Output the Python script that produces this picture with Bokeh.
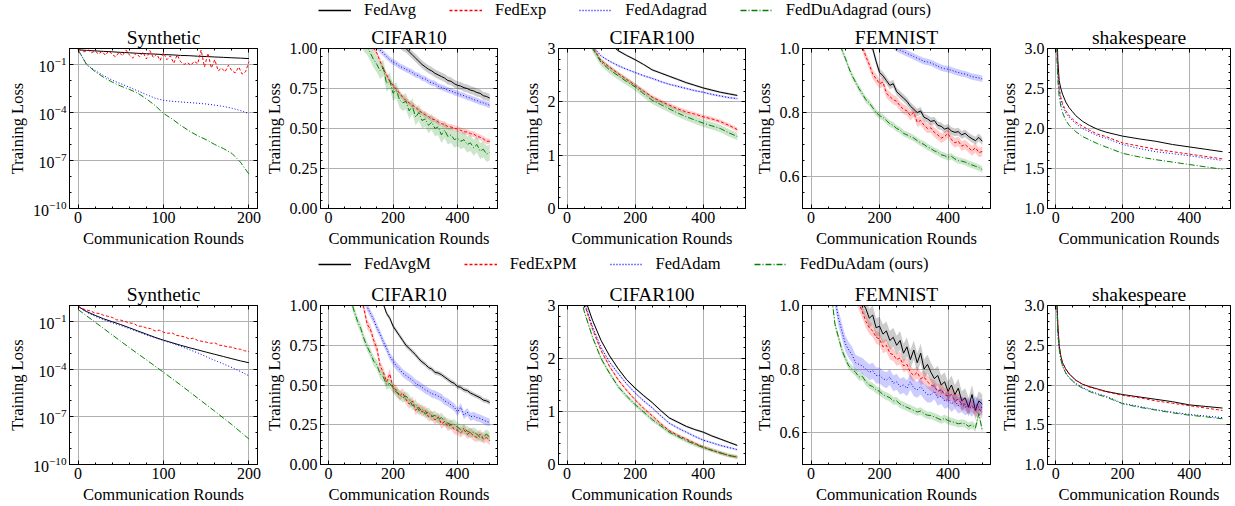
from bokeh.plotting import figure
from bokeh.layouts import column, row
from bokeh.models import (Range1d, FixedTicker, LinearAxis, LogAxis, Legend, LegendItem,
                          NumeralTickFormatter, LogTickFormatter)
from bokeh.embed import file_html
from bokeh.resources import INLINE

FONT = "Liberation Serif"
COLORS = ["#000000", "#ff0000", "#0000ff", "#008000"]
DASHES = ["solid", "3 2", "1 2", "6 2 1 2"]

LABELS_TOP = ["FedAvg", "FedExp", "FedAdagrad", "FedDuAdagrad (ours)"]
LABELS_BOT = ["FedAvgM", "FedExPM", "FedAdam", "FedDuAdam (ours)"]

# ---------------- Synthetic (rounds 0..200) ----------------
SYN_X10 = [0, 10, 20, 30, 40, 50, 60, 70, 80, 90, 100, 110, 120, 130, 140, 150, 160, 170, 180, 190, 200]
SYN_X4 = [0, 4, 8, 12, 16, 20, 24, 28, 32, 36, 40, 44, 48, 52, 56, 60, 64, 68, 72, 76, 80, 84, 88, 92, 96,
          100, 104, 108, 112, 116, 120, 124, 128, 132, 136, 140, 144, 148, 152, 156, 160, 164, 168, 172,
          176, 180, 184, 188, 192, 196, 200]
SYN_X5 = [0, 5, 10, 15, 20, 25, 30, 35, 40, 45, 50, 55, 60, 65, 70, 75, 80, 85, 90, 95, 100, 105, 110,
          115, 120, 125, 130, 135, 140, 145, 150, 155, 160, 165, 170, 175, 180, 185, 190, 195, 200]
SYN_X20 = [0, 20, 40, 60, 80, 100, 120, 140, 160, 180, 200]

syn1_fedavg = [0.83, 0.76, 0.71, 0.66, 0.62, 0.575, 0.54, 0.50, 0.47, 0.447, 0.417, 0.40, 0.37, 0.355,
               0.33, 0.316, 0.295, 0.28, 0.263, 0.25, 0.234]
syn1_fedexp = [0.85, 0.78, 0.62, 0.80, 0.55, 0.70, 0.45, 0.66, 0.38, 0.72, 0.42, 0.30, 0.58, 0.35, 0.82,
               0.40, 0.25, 0.52, 0.30, 0.60, 0.22, 0.75, 0.28, 0.45, 0.18, 0.55, 0.20, 0.35, 0.12, 0.40,
               0.15, 0.10, 0.13, 0.09, 0.16, 0.11, 0.80, 0.07, 0.50, 0.06, 0.20, 0.04, 0.06, 0.035, 0.09,
               0.04, 0.03, 0.07, 0.025, 0.035, 0.15]
syn1_fedadagrad = [0.832, 0.1, 0.0417, 0.02, 0.0105, 6.3e-3, 3.8e-3, 2.24e-3, 1.32e-3, 7.9e-4, 5.75e-4,
                   5.0e-4, 4.57e-4, 4.17e-4, 3.8e-4, 3.39e-4, 2.88e-4, 2.4e-4, 1.86e-4, 1.32e-4, 8.7e-5]
syn1_fedduadagrad = [0.832, 0.1, 0.0355, 0.0158, 7.9e-3, 4.5e-3, 2.8e-3, 1.6e-3, 7.1e-4, 2.8e-4, 8.7e-5,
                     4.0e-5, 1.6e-5, 7.1e-6, 3.5e-6, 2.0e-6, 1.0e-6, 5.6e-7, 2.8e-7, 7.9e-8, 1.4e-8]

syn2_fedavgm = [0.89, 0.417, 0.24, 0.145, 0.0955, 0.063, 0.04, 0.025, 0.0158, 0.01, 6.6e-3, 4.57e-3,
                3.16e-3, 2.24e-3, 1.62e-3, 1.17e-3, 8.5e-4, 6.2e-4, 4.5e-4, 3.3e-4, 2.5e-4]
syn2_fedexpm = [0.93, 0.63, 0.525, 0.447, 0.331, 0.316, 0.24, 0.209, 0.178, 0.126, 0.12, 0.1, 0.0794,
                0.0759, 0.0501, 0.0501, 0.038, 0.0355, 0.0251, 0.0282, 0.0209, 0.0178, 0.0191, 0.0132,
                0.012, 0.0105, 7.9e-3, 8.9e-3, 6.3e-3, 5.6e-3, 5.0e-3, 4.2e-3, 4.5e-3, 3.2e-3, 3.0e-3,
                2.5e-3, 2.4e-3, 1.9e-3, 1.78e-3, 1.41e-3, 1.26e-3]
syn2_fedadam = [0.89, 0.38, 0.209, 0.126, 0.083, 0.055, 0.0355, 0.0224, 0.0141, 9.3e-3, 6.3e-3, 4.2e-3,
                2.7e-3, 1.7e-3, 1.05e-3, 6.0e-4, 3.55e-4, 2.14e-4, 1.26e-4, 7.1e-5, 3.8e-5]
syn2_fedduadam = [0.56, 0.089, 0.0141, 2.24e-3, 3.8e-4, 6.3e-5, 1.0e-5, 1.5e-6, 2.24e-7, 3.2e-8, 4.0e-9]

# ---------------- 500-round benchmarks ----------------
X10 = [0, 10, 20, 30, 40, 50, 60, 70, 80, 90, 100, 110, 120, 130, 140, 150, 160, 170, 180, 190, 200,
       210, 220, 230, 240, 250, 260, 270, 280, 290, 300, 310, 320, 330, 340, 350, 360, 370, 380, 390,
       400, 410, 420, 430, 440, 450, 460, 470, 480, 490, 500]
X25 = [0, 25, 50, 75, 100, 125, 150, 175, 200, 225, 250, 275, 300, 325, 350, 375, 400, 425, 450, 475, 500]
X_SHK = [0, 3, 6, 10, 15, 20, 30, 40, 50, 60, 80, 100, 125, 150, 200, 250, 300, 350, 400, 450, 500]

# CIFAR10, top row
c10a_fedavg = [2.30, 2.25, 2.18, 2.1, 2.0, 1.9, 1.8, 1.7, 1.6, 1.5, 1.45, 1.4, 1.35, 1.3, 1.26, 1.22, 1.18,
               1.15, 1.12, 1.09, 1.07, 1.05, 1.03, 1.01, 1.0, 0.98, 0.96, 0.94, 0.92, 0.90, 0.885, 0.87,
               0.86, 0.845, 0.835, 0.825, 0.815, 0.80, 0.795, 0.78, 0.77, 0.765, 0.755, 0.75, 0.74, 0.735,
               0.725, 0.72, 0.705, 0.7, 0.69]
c10a_fedexp = [2.3, 2.05, 1.85, 1.7, 1.57, 1.46, 1.37, 1.29, 1.22, 1.16, 1.11, 1.07, 1.04, 1.02, 1.0, 0.97,
               0.92, 0.87, 0.835, 0.795, 0.77, 0.745, 0.72, 0.695, 0.675, 0.66, 0.645, 0.635, 0.61, 0.6,
               0.585, 0.575, 0.56, 0.555, 0.54, 0.53, 0.525, 0.512, 0.51, 0.5, 0.497, 0.488, 0.48, 0.478,
               0.468, 0.465, 0.452, 0.445, 0.435, 0.42, 0.42]
c10a_fedadagrad = [2.3, 2.1, 1.95, 1.8, 1.68, 1.57, 1.47, 1.38, 1.3, 1.24, 1.18, 1.13, 1.09, 1.06, 1.03,
                   1.01, 0.99, 0.97, 0.95, 0.93, 0.915, 0.905, 0.89, 0.88, 0.87, 0.86, 0.85, 0.835, 0.83,
                   0.815, 0.81, 0.795, 0.785, 0.78, 0.765, 0.757, 0.75, 0.74, 0.735, 0.725, 0.72, 0.71,
                   0.705, 0.695, 0.69, 0.68, 0.675, 0.665, 0.66, 0.652, 0.645]
c10a_fedduadagrad = [2.3, 2.0, 1.8, 1.63, 1.5, 1.39, 1.3, 1.22, 1.16, 1.11, 1.07, 1.03, 1.01, 0.97, 0.93,
                     0.9, 0.86, 0.88, 0.78, 0.8, 0.72, 0.74, 0.68, 0.66, 0.67, 0.61, 0.64, 0.57, 0.6, 0.55,
                     0.56, 0.52, 0.54, 0.5, 0.51, 0.46, 0.49, 0.45, 0.46, 0.43, 0.44, 0.42, 0.43, 0.4, 0.41,
                     0.38, 0.4, 0.36, 0.37, 0.34, 0.35]
c10a_std = [0.025, 0.018, 0.018, 0.05]

# CIFAR10, bottom row
c10b_fedavgm = [2.3, 2.2, 2.1, 2.0, 1.9, 1.8, 1.7, 1.6, 1.52, 1.45, 1.38, 1.32, 1.26, 1.2, 1.15, 1.1, 1.05,
                1.01, 0.95, 0.92, 0.87, 0.84, 0.81, 0.78, 0.75, 0.73, 0.71, 0.69, 0.665, 0.645, 0.63, 0.61,
                0.6, 0.58, 0.575, 0.565, 0.55, 0.535, 0.52, 0.51, 0.49, 0.485, 0.47, 0.465, 0.45, 0.44,
                0.43, 0.42, 0.405, 0.4, 0.39]
c10b_fedexpm = [2.3, 2.1, 1.93, 1.78, 1.65, 1.54, 1.44, 1.35, 1.26, 1.17, 1.05, 0.98, 0.88, 0.85, 0.78,
                0.73, 0.62, 0.58, 0.52, 0.57, 0.48, 0.47, 0.43, 0.45, 0.41, 0.38, 0.4, 0.34, 0.36, 0.33,
                0.34, 0.3, 0.31, 0.28, 0.3, 0.255, 0.27, 0.24, 0.25, 0.22, 0.215, 0.2, 0.22, 0.19, 0.2,
                0.18, 0.17, 0.19, 0.16, 0.17, 0.15]
c10b_fedadam = [2.3, 2.15, 2.0, 1.85, 1.72, 1.6, 1.5, 1.4, 1.3, 1.2, 1.12, 1.04, 0.99, 0.95, 0.91, 0.86,
                0.82, 0.77, 0.73, 0.68, 0.65, 0.62, 0.6, 0.575, 0.56, 0.545, 0.53, 0.51, 0.5, 0.485, 0.47,
                0.46, 0.445, 0.44, 0.43, 0.42, 0.4, 0.39, 0.375, 0.36, 0.33, 0.36, 0.31, 0.33, 0.3, 0.306,
                0.295, 0.29, 0.28, 0.27, 0.265]
c10b_fedduadam = [2.3, 2.0, 1.75, 1.55, 1.38, 1.24, 1.12, 1.03, 0.96, 0.9, 0.855, 0.79, 0.74, 0.7, 0.65,
                  0.627, 0.57, 0.55, 0.5, 0.51, 0.48, 0.455, 0.44, 0.42, 0.43, 0.41, 0.37, 0.38, 0.34, 0.35,
                  0.317, 0.33, 0.3, 0.31, 0.28, 0.296, 0.27, 0.26, 0.25, 0.255, 0.234, 0.22, 0.225, 0.21,
                  0.2, 0.203, 0.19, 0.17, 0.175, 0.19, 0.172]
c10b_std = [0.015, 0.03, 0.025, 0.03]

# CIFAR100
c100a_fedavg = [4.6, 4.3, 4.0, 3.7, 3.3, 3.1, 2.96, 2.87, 2.79, 2.7, 2.6, 2.54, 2.48, 2.42, 2.36, 2.31,
                2.26, 2.22, 2.18, 2.15, 2.12]
c100a_fedexp = [4.6, 4.0, 3.5, 3.03, 2.77, 2.65, 2.53, 2.42, 2.31, 2.2, 2.09, 2.01, 1.94, 1.87, 1.81, 1.77,
                1.72, 1.68, 1.63, 1.56, 1.48]
c100a_fedadagrad = [4.6, 4.0, 3.5, 3.05, 2.86, 2.76, 2.68, 2.61, 2.55, 2.49, 2.44, 2.38, 2.33, 2.29, 2.25,
                    2.21, 2.18, 2.14, 2.11, 2.08, 2.06]
c100a_fedduadagrad = [4.6, 4.0, 3.45, 3.0, 2.74, 2.6, 2.49, 2.38, 2.28, 2.15, 2.03, 1.95, 1.87, 1.79,
                      1.72, 1.66, 1.6, 1.55, 1.5, 1.42, 1.35]
c100a_std = [0.02, 0.04, 0.02, 0.07]

c100b_fedavgm = [4.6, 3.9, 3.18, 2.72, 2.34, 2.05, 1.81, 1.6, 1.44, 1.3, 1.17, 1.02, 0.88, 0.8, 0.72, 0.66,
                 0.61, 0.54, 0.48, 0.42, 0.36]
c100b_fedexpm = [4.6, 3.85, 3.05, 2.55, 2.15, 1.85, 1.6, 1.4, 1.22, 1.06, 0.92, 0.77, 0.64, 0.55, 0.48,
                 0.4, 0.33, 0.27, 0.22, 0.17, 0.14]
c100b_fedadam = [4.6, 3.85, 3.1, 2.6, 2.21, 1.93, 1.72, 1.52, 1.35, 1.2, 1.07, 0.92, 0.78, 0.69, 0.61,
                 0.53, 0.46, 0.41, 0.36, 0.32, 0.28]
c100b_fedduadam = [4.6, 3.7, 2.9, 2.4, 2.0, 1.72, 1.47, 1.29, 1.13, 0.99, 0.85, 0.73, 0.61, 0.53, 0.45,
                   0.38, 0.32, 0.27, 0.22, 0.17, 0.14]
c100b_std = [0.02, 0.03, 0.02, 0.04]

# FEMNIST
fema_fedavg = [4.1, 3.6, 3.1, 2.7, 2.35, 2.05, 1.8, 1.6, 1.45, 1.35, 1.27, 1.21, 1.16, 1.12, 1.09, 1.06,
               1.04, 1.02, 1.0, 0.96, 0.925, 0.915, 0.9, 0.885, 0.89, 0.865, 0.855, 0.845, 0.835, 0.82,
               0.81, 0.8, 0.805, 0.785, 0.78, 0.772, 0.775, 0.76, 0.757, 0.748, 0.752, 0.742, 0.738, 0.74,
               0.73, 0.735, 0.725, 0.718, 0.712, 0.722, 0.71]
fema_fedexp = [4.1, 3.5, 3.0, 2.6, 2.25, 1.95, 1.72, 1.55, 1.42, 1.32, 1.24, 1.17, 1.12, 1.07, 1.03,
               1.005, 0.975, 0.95, 0.92, 0.905, 0.89, 0.895, 0.86, 0.85, 0.84, 0.835, 0.82, 0.81, 0.805,
               0.79, 0.8, 0.77, 0.775, 0.76, 0.75, 0.752, 0.738, 0.73, 0.72, 0.725, 0.735, 0.715, 0.705,
               0.71, 0.695, 0.7, 0.69, 0.68, 0.69, 0.675, 0.678]
fema_fedadagrad = [4.1, 3.8, 3.5, 3.2, 2.9, 2.65, 2.4, 2.2, 2.0, 1.85, 1.72, 1.6, 1.5, 1.42, 1.35, 1.29,
                   1.24, 1.19, 1.15, 1.11, 1.08, 1.06, 1.04, 1.025, 1.01, 1.0, 0.995, 0.99, 0.985, 0.98,
                   0.975, 0.97, 0.965, 0.96, 0.958, 0.955, 0.95, 0.945, 0.94, 0.937, 0.935, 0.932, 0.928,
                   0.925, 0.922, 0.92, 0.916, 0.912, 0.91, 0.908, 0.905]
fema_fedduadagrad = [4.1, 3.3, 2.7, 2.2, 1.85, 1.55, 1.33, 1.18, 1.07, 0.995, 0.97, 0.94, 0.915, 0.895,
                     0.875, 0.858, 0.84, 0.83, 0.815, 0.8, 0.79, 0.785, 0.775, 0.765, 0.76, 0.75, 0.745,
                     0.735, 0.73, 0.725, 0.72, 0.712, 0.705, 0.7, 0.692, 0.687, 0.68, 0.676, 0.668, 0.665,
                     0.66, 0.663, 0.655, 0.65, 0.648, 0.645, 0.64, 0.636, 0.632, 0.628, 0.622]
fema_std = [0.012, 0.015, 0.01, 0.01]

femb_fedavgm = [4.1, 3.6, 3.1, 2.7, 2.35, 2.05, 1.8, 1.6, 1.45, 1.34, 1.25, 1.18, 1.12, 1.08, 1.04, 1.01,
                0.99, 0.96, 0.97, 0.93, 0.935, 0.91, 0.92, 0.89, 0.9, 0.875, 0.89, 0.85, 0.87, 0.83, 0.86,
                0.82, 0.85, 0.8, 0.815, 0.79, 0.77, 0.78, 0.75, 0.76, 0.73, 0.75, 0.72, 0.74, 0.7, 0.71,
                0.68, 0.72, 0.67, 0.7, 0.69]
femb_fedexpm = [4.1, 3.55, 3.05, 2.65, 2.3, 2.0, 1.75, 1.55, 1.4, 1.29, 1.2, 1.13, 1.07, 1.03, 1.005,
                0.98, 0.95, 0.93, 0.92, 0.9, 0.895, 0.87, 0.875, 0.85, 0.845, 0.83, 0.835, 0.81, 0.815,
                0.79, 0.78, 0.79, 0.77, 0.775, 0.76, 0.75, 0.745, 0.73, 0.735, 0.72, 0.715, 0.72, 0.7,
                0.705, 0.69, 0.69, 0.68, 0.685, 0.67, 0.675, 0.665]
femb_fedadam = [4.1, 3.3, 2.6, 2.1, 1.7, 1.4, 1.18, 1.02, 0.96, 0.92, 0.88, 0.86, 0.845, 0.82, 0.815, 0.81,
                0.8, 0.79, 0.795, 0.78, 0.78, 0.77, 0.765, 0.775, 0.755, 0.76, 0.745, 0.75, 0.74, 0.76,
                0.74, 0.735, 0.745, 0.73, 0.72, 0.72, 0.73, 0.71, 0.715, 0.7, 0.705, 0.69, 0.7, 0.685,
                0.69, 0.68, 0.685, 0.675, 0.69, 0.68, 0.68]
femb_fedduadam = [4.1, 3.2, 2.5, 1.95, 1.55, 1.25, 1.03, 0.94, 0.9, 0.86, 0.834, 0.81, 0.8, 0.79, 0.775,
                  0.777, 0.76, 0.75, 0.745, 0.735, 0.73, 0.72, 0.715, 0.71, 0.7, 0.7, 0.69, 0.685, 0.68,
                  0.675, 0.67, 0.665, 0.668, 0.66, 0.655, 0.654, 0.65, 0.645, 0.64, 0.645, 0.638, 0.635,
                  0.632, 0.628, 0.63, 0.628, 0.62, 0.625, 0.615, 0.66, 0.607]
femb_std = [0.03, 0.02, 0.025, 0.012]

# shakespeare
shka_fedavg = [4.4, 3.3, 2.85, 2.6, 2.5, 2.43, 2.33, 2.26, 2.21, 2.16, 2.09, 2.04, 1.99, 1.955, 1.905,
               1.87, 1.84, 1.8, 1.77, 1.74, 1.71]
shka_fedexp = [4.4, 3.1, 2.75, 2.5, 2.39, 2.31, 2.22, 2.16, 2.12, 2.08, 2.03, 1.98, 1.93, 1.9, 1.82, 1.78,
               1.74, 1.71, 1.68, 1.65, 1.62]
shka_fedadagrad = [4.4, 3.0, 2.7, 2.48, 2.36, 2.28, 2.19, 2.14, 2.1, 2.06, 2.0, 1.96, 1.91, 1.88, 1.8,
                   1.75, 1.71, 1.685, 1.66, 1.63, 1.6]
shka_fedduadagrad = [4.4, 2.9, 2.6, 2.4, 2.28, 2.2, 2.1, 2.04, 2.0, 1.96, 1.9, 1.86, 1.81, 1.77, 1.69,
                     1.645, 1.61, 1.58, 1.55, 1.52, 1.49]

shkb_fedavgm = [4.4, 3.1, 2.75, 2.5, 2.36, 2.28, 2.2, 2.14, 2.1, 2.06, 2.01, 1.98, 1.95, 1.92, 1.88, 1.85,
                1.82, 1.79, 1.75, 1.73, 1.71]
shkb_fedexpm = [4.4, 3.1, 2.75, 2.5, 2.36, 2.28, 2.2, 2.14, 2.1, 2.06, 2.01, 1.975, 1.945, 1.915, 1.87,
                1.84, 1.8, 1.77, 1.74, 1.71, 1.68]
shkb_fedadam = [4.4, 3.0, 2.65, 2.46, 2.32, 2.24, 2.15, 2.09, 2.06, 2.02, 1.97, 1.93, 1.89, 1.86, 1.77,
                1.73, 1.69, 1.66, 1.63, 1.61, 1.59]
shkb_fedduadam = [4.4, 3.0, 2.65, 2.46, 2.32, 2.24, 2.15, 2.09, 2.05, 2.01, 1.96, 1.92, 1.88, 1.85, 1.765,
                  1.72, 1.685, 1.65, 1.62, 1.6, 1.575]

# tick positions
SYN_XTICKS = [0, 100, 200]
SYN_XMINOR = [0, 20, 40, 60, 80, 100, 120, 140, 160, 180, 200]
R_XTICKS = [0, 200, 400]
R_XMINOR = [0, 50, 100, 150, 200, 250, 300, 350, 400, 450, 500]
LOG_TICKS = [1e-10, 1e-7, 1e-4, 1e-1]
LOG_MINOR = [1e-10, 1e-9, 1e-8, 1e-7, 1e-6, 1e-5, 1e-4, 1e-3, 1e-2, 1e-1, 1.0]
C10_TICKS = [0.0, 0.25, 0.5, 0.75, 1.0]
C10_MINOR = [0.0, 0.05, 0.1, 0.15, 0.2, 0.25, 0.3, 0.35, 0.4, 0.45, 0.5, 0.55, 0.6, 0.65, 0.7, 0.75,
             0.8, 0.85, 0.9, 0.95, 1.0]
C100_TICKS = [0, 1, 2, 3]
C100_MINOR = [0, 0.2, 0.4, 0.6, 0.8, 1.0, 1.2, 1.4, 1.6, 1.8, 2.0, 2.2, 2.4, 2.6, 2.8, 3.0]
FEM_TICKS = [0.6, 0.8, 1.0]
FEM_MINOR = [0.5, 0.55, 0.6, 0.65, 0.7, 0.75, 0.8, 0.85, 0.9, 0.95, 1.0]
SHK_TICKS = [1.0, 1.5, 2.0, 2.5, 3.0]
SHK_MINOR = [1.0, 1.1, 1.2, 1.3, 1.4, 1.5, 1.6, 1.7, 1.8, 1.9, 2.0, 2.1, 2.2, 2.3, 2.4, 2.5, 2.6, 2.7,
             2.8, 2.9, 3.0]


def style_axis(ax, hidden=False):
    ax.major_tick_in = 4
    ax.major_tick_out = 0
    ax.minor_tick_in = 2
    ax.minor_tick_out = 0
    ax.axis_line_color = "black"
    ax.major_tick_line_color = "black"
    ax.minor_tick_line_color = "black"
    ax.major_label_text_font = FONT
    ax.major_label_text_color = "black"
    ax.axis_label_text_font = FONT
    ax.axis_label_text_font_style = "normal"
    ax.axis_label_text_color = "black"
    ax.axis_label_text_font_size = "16.5px"
    if hidden:
        ax.major_label_text_font_size = "1px"
        ax.major_label_text_alpha = 0
        ax.major_label_standoff = 0
    else:
        ax.major_label_text_font_size = "16px"
        ax.major_label_standoff = 3
        ax.axis_label_standoff = 3


def panel(title, width, left, right, height, top, bottom, xr, yr, xt, xm, yt, ym, yfmt,
          xs, ys, stds=None, log=False):
    p = figure(width=width, height=height, x_range=Range1d(*xr), y_range=Range1d(*yr),
               y_axis_type="log" if log else "linear", toolbar_location=None,
               output_backend="svg", min_border_left=left, min_border_right=right,
               min_border_top=top, min_border_bottom=bottom, title=title)
    p.title.text_font = FONT
    p.title.text_font_size = "19.5px"
    p.title.text_font_style = "normal"
    p.title.text_color = "black"
    p.title.align = "center"
    p.title.standoff = 2
    p.outline_line_color = "black"
    p.outline_line_width = 1
    p.background_fill_color = "white"
    p.border_fill_color = "white"

    xtick = FixedTicker(ticks=xt, minor_ticks=xm)
    ytick = FixedTicker(ticks=yt, minor_ticks=ym)
    p.xaxis.ticker = xtick
    p.yaxis.ticker = ytick
    p.xaxis.axis_label = "Communication Rounds"
    p.yaxis.axis_label = "Training Loss"
    p.xaxis.formatter = NumeralTickFormatter(format="0")
    if log:
        p.yaxis.formatter = LogTickFormatter()
    else:
        p.yaxis.formatter = NumeralTickFormatter(format=yfmt)
    for ax in p.xaxis + p.yaxis:
        style_axis(ax)
    # ticks on the opposite sides
    top_ax = LinearAxis(ticker=xtick)
    style_axis(top_ax, hidden=True)
    p.add_layout(top_ax, "above")
    right_ax = LogAxis(ticker=ytick) if log else LinearAxis(ticker=ytick)
    style_axis(right_ax, hidden=True)
    p.add_layout(right_ax, "right")

    p.xgrid.ticker = xtick
    p.ygrid.ticker = ytick
    p.grid.grid_line_color = "#b0b0b0"
    p.grid.grid_line_width = 1

    for i, (x, y) in enumerate(zip(xs, ys)):
        if stds is not None:
            lo = [v - stds[i] for v in y]
            hi = [v + stds[i] for v in y]
            p.varea(x=x, y1=lo, y2=hi, fill_color=COLORS[i], fill_alpha=0.2)
        p.line(x=x, y=y, line_color=COLORS[i], line_dash=DASHES[i], line_width=1.0)
    return p


def legend_fig(width, height, labels, xs, ys, loc):
    # the handles reuse the panel data; the ranges keep them out of view
    p = figure(width=width, height=height, x_range=Range1d(-3, -2), y_range=Range1d(-3, -2),
               toolbar_location=None, output_backend="svg", min_border=0,
               x_axis_type=None, y_axis_type=None)
    p.outline_line_color = None
    items = []
    for lab, c, d, x, y in zip(labels, COLORS, DASHES, xs, ys):
        r = p.line(x=x, y=y, line_color=c, line_dash=d, line_width=1.3)
        items.append(LegendItem(label=lab, renderers=[r]))
    leg = Legend(items=items, orientation="horizontal", location=loc,
                 glyph_width=33, glyph_height=18, label_height=18, label_standoff=13,
                 spacing=33, padding=0, margin=0, border_line_color=None,
                 background_fill_alpha=0, label_text_font=FONT, label_text_font_size="16.5px",
                 label_text_color="black")
    p.add_layout(leg)
    return p


W = [261, 242, 247, 245, 240]
L = [69, 52, 55, 52, 52]
R = [4, 6, 5, 5, 5]
R500 = (-25, 524)


def build_row(h, top, bottom, data):
    figs = []
    specs = [
        ("Synthetic", (-10, 210), SYN_XTICKS, SYN_XMINOR, (1e-10, 1.0), LOG_TICKS, LOG_MINOR, None, True),
        ("CIFAR10", R500, R_XTICKS, R_XMINOR, (0, 1), C10_TICKS, C10_MINOR, "0.00", False),
        ("CIFAR100", R500, R_XTICKS, R_XMINOR, (0, 3), C100_TICKS, C100_MINOR, "0", False),
        ("FEMNIST", R500, R_XTICKS, R_XMINOR, (0.5, 1.0), FEM_TICKS, FEM_MINOR, "0.0", False),
        ("shakespeare", R500, R_XTICKS, R_XMINOR, (1.0, 3.0), SHK_TICKS, SHK_MINOR, "0.0", False),
    ]
    for k, (title, xr, xt, xm, yr, yt, ym, fmt, log) in enumerate(specs):
        xs, ys, stds = data[k]
        figs.append(panel(title, W[k], L[k], R[k], h, top, bottom, xr, yr, xt, xm, yt, ym, fmt,
                          xs, ys, stds, log))
    return row(*figs, spacing=0)


top_data = [
    ([SYN_X10, SYN_X4, SYN_X10, SYN_X10],
     [syn1_fedavg, syn1_fedexp, syn1_fedadagrad, syn1_fedduadagrad], None),
    ([X10] * 4, [c10a_fedavg, c10a_fedexp, c10a_fedadagrad, c10a_fedduadagrad], c10a_std),
    ([X25] * 4, [c100a_fedavg, c100a_fedexp, c100a_fedadagrad, c100a_fedduadagrad], c100a_std),
    ([X10] * 4, [fema_fedavg, fema_fedexp, fema_fedadagrad, fema_fedduadagrad], fema_std),
    ([X_SHK] * 4, [shka_fedavg, shka_fedexp, shka_fedadagrad, shka_fedduadagrad], None),
]
bot_data = [
    ([SYN_X10, SYN_X5, SYN_X10, SYN_X20],
     [syn2_fedavgm, syn2_fedexpm, syn2_fedadam, syn2_fedduadam], None),
    ([X10] * 4, [c10b_fedavgm, c10b_fedexpm, c10b_fedadam, c10b_fedduadam], c10b_std),
    ([X25] * 4, [c100b_fedavgm, c100b_fedexpm, c100b_fedadam, c100b_fedduadam], c100b_std),
    ([X10] * 4, [femb_fedavgm, femb_fedexpm, femb_fedadam, femb_fedduadam], femb_std),
    ([X_SHK] * 4, [shkb_fedavgm, shkb_fedexpm, shkb_fedadam, shkb_fedduadam], None),
]

leg1 = legend_fig(1235, 22, LABELS_TOP, top_data[4][0], top_data[4][1], (318, 2))
row1 = build_row(228, 26, 41, top_data)
leg2 = legend_fig(1235, 30, LABELS_BOT, bot_data[4][0], bot_data[4][1], (318, 6))
row2 = build_row(226, 23, 41, bot_data)

layout = column(leg1, row1, leg2, row2, spacing=0)
open("out.html", "w").write(file_html(layout, INLINE))
